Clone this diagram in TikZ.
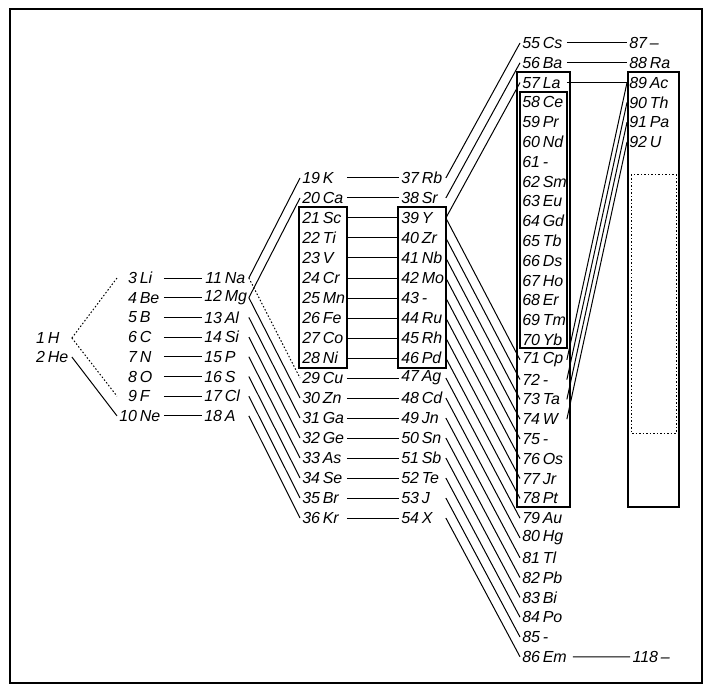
\documentclass[tikz,border=0pt]{standalone}
\usepackage{fontspec}
\setmainfont{Liberation Sans}
\newcommand{\elem}[2]{\makebox[1.15em][r]{#1}\,\makebox[1.4em][l]{#2}}
\tikzset{
  el/.style={anchor=west, inner sep=1.5pt},
  link/.style={line width=1pt},
  dotlink/.style={line width=1pt, dash pattern=on 1.5pt off 2pt},
  group/.style={line width=1.3pt},
}
\begin{document}
\begin{tikzpicture}[x=1pt, y=-1pt, font=\fontsize{16}{19}\selectfont\itshape]
  \useasboundingbox (0,0) rectangle (711,692);
  % outer border
  \draw[line width=1.6pt] (10,9) rectangle (702,683);
  % columns of elements
  \node[el] (e1) at (25,338) {\elem{1}{H}};
  \node[el] (e2) at (25,357) {\elem{2}{He}};
  \foreach \n/\s [count=\k from 0] in {3/Li,4/Be,5/B,6/C,7/N,8/O,9/F,10/Ne}
    \node[el] (e\n) at (117,{278+19.7*\k}) {\elem{\n}{\s}};
  \foreach \n/\s [count=\k from 0] in {11/Na,12/Mg,13/Al,14/Si,15/P,16/S,17/Cl,18/A}
    \node[el] (e\n) at (202,{278+19.7*\k}) {\elem{\n}{\s}};
  \foreach \n/\s [count=\k from 0] in {19/K,20/Ca,21/Sc,22/Ti,23/V,24/Cr,25/Mn,26/Fe,27/Co,
      28/Ni,29/Cu,30/Zn,31/Ga,32/Ge,33/As,34/Se,35/Br,36/Kr}
    \node[el] (e\n) at (300,{178+20*\k}) {\elem{\n}{\s}};
  \foreach \n/\s [count=\k from 0] in {37/Rb,38/Sr,39/Y,40/Zr,41/Nb,42/Mo,43/-,44/Ru,45/Rh,
      46/Pd,47/Ag,48/Cd,49/Jn,50/Sn,51/Sb,52/Te,53/J,54/X}
    \node[el] (e\n) at (399,{178+20*\k}) {\elem{\n}{\s}};
  \foreach \n/\s [count=\k from 0] in {55/Cs,56/Ba,57/La,58/Ce,59/Pr,60/Nd,61/-,62/Sm,63/Eu,
      64/Gd,65/Tb,66/Ds,67/Ho,68/Er,69/Tm,70/Yb,71/Cp,72/-,73/Ta,74/W,75/-,76/Os,77/Jr,
      78/Pt,79/Au,80/Hg,81/Tl,82/Pb,83/Bi,84/Po,85/-,86/Em}
    \node[el] (e\n) at (520,{43+19.8*\k}) {\elem{\n}{\s}};
  \foreach \n/\s [count=\k from 0] in {87/--,88/Ra,89/Ac,90/Th,91/Pa,92/U}
    \node[el] (e\n) at (627,{43+19.8*\k}) {\elem{\n}{\s}};
  \node[el] (e118) at (638,656.8) {\elem{118}{--}};
  % groups
  \draw[group] (299,207) rectangle (347,368);
  \draw[group] (398,207) rectangle (446,368);
  \draw[group] (517,72) rectangle (570,507);
  \draw[group] (520,92) rectangle (567,348);
  \draw[group] (628,72) rectangle (679,507);
  \draw[dotlink] (631,175) rectangle (676,433);
  % connectors
  \draw[dotlink] (e1.east) -- (e3.west);
  \draw[dotlink] (e1.east) -- (e9.west);
  \draw[link] (e2.east) -- (e10.west);
  \foreach \a/\b in {3/11,4/12,5/13,6/14,7/15,8/16,9/17,10/18}
    \draw[link] (e\a.east) -- (e\b.west);
  \foreach \a/\b in {11/19,12/20,12/30,13/31,14/32,15/33,16/34,17/35,18/36}
    \draw[link] (e\a.east) -- (e\b.west);
  \draw[dotlink] (e11.east) -- (e29.west);
  \foreach \a in {19,...,36}
    \draw[link] (e\a.east) -- (e\the\numexpr\a+18\relax.west);
  \foreach \a/\b in {37/55,38/56,39/57,39/71,40/72,41/73,42/74,43/75,44/76,45/77,46/78,
      47/79,48/80,49/81,50/82,51/83,52/84,53/85,54/86}
    \draw[link] (e\a.east) -- (e\b.west);
  \foreach \a/\b in {55/87,56/88,57/89}
    \draw[link] (e\a.east) -- (e\b.west);
  \draw[link] ([xshift=6pt]e86.east) -- ([xshift=-8pt]e118.west);
  \foreach \a/\b in {89/71,90/72,91/73,92/74}
    \draw[link] (e\a.west) -- (e\b.east);
\end{tikzpicture}
\end{document}
